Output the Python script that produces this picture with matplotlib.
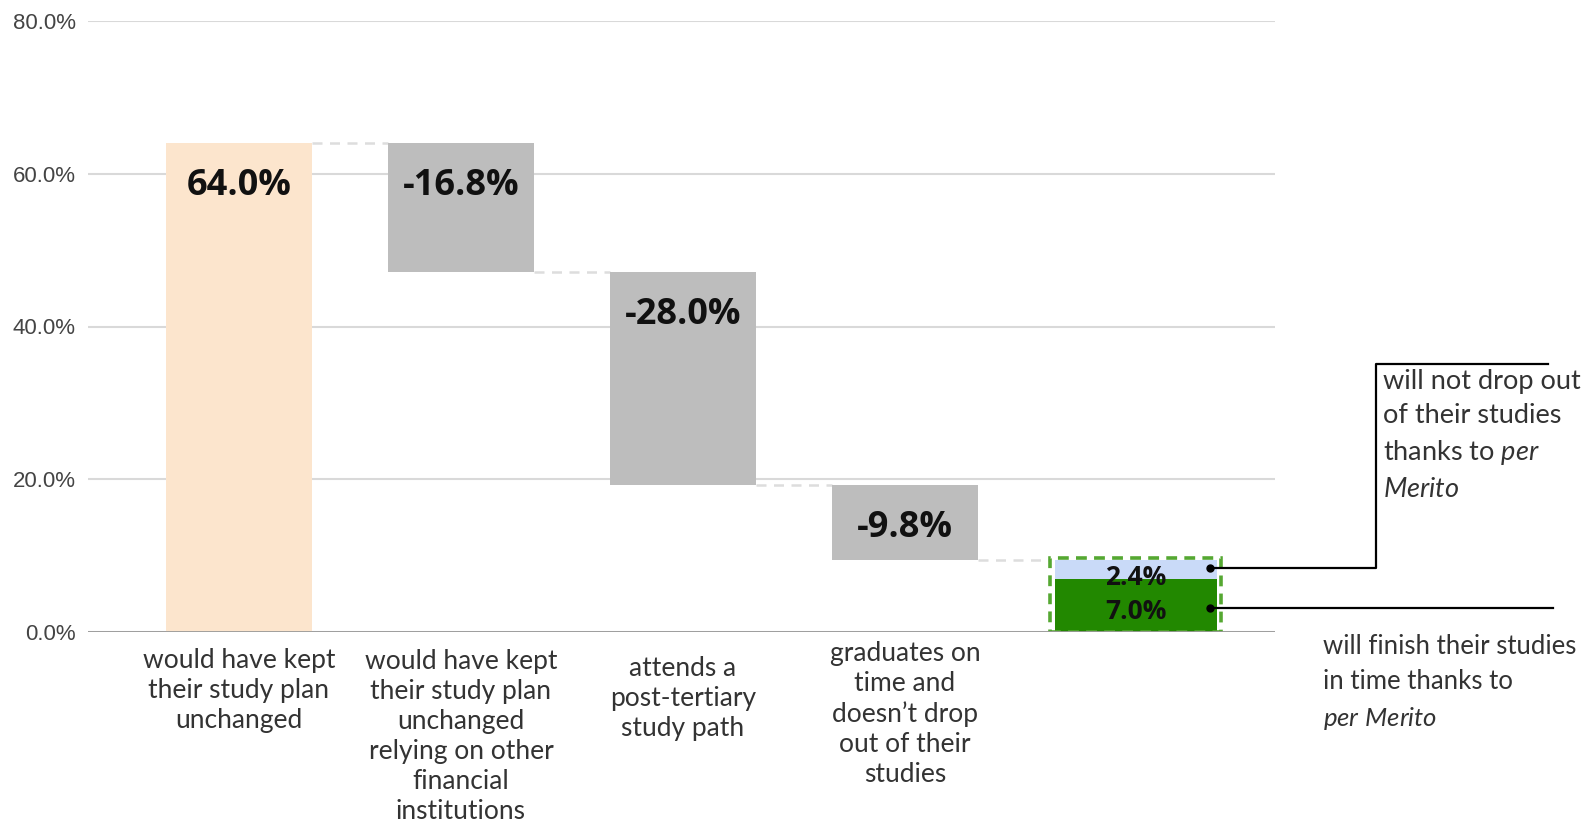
import matplotlib
matplotlib.use("Agg")
import matplotlib.pyplot as plt
from matplotlib.patches import Rectangle
from matplotlib.lines import Line2D

# ---- data -------------------------------------------------------------
categories = [
    "would have kept\ntheir study plan\nunchanged",
    "would have kept\ntheir study plan\nunchanged\nrelying on other\nfinancial\ninstitutions",
    "attends a\npost-tertiary\nstudy path",
    "graduates on\ntime and\ndoesn\u2019t drop\nout of their\nstudies",
    "",
]
start_value = 64.0
changes = [-16.8, -28.0, -9.8]
final_parts = [7.0, 2.4]          # finish in time / will not drop out
yticks = [0, 20, 40, 60, 80]
ytick_labels = ["0.0%", "20.0%", "40.0%", "60.0%", "80.0%"]
note_upper = "will not drop out\nof their studies\nthanks to $\\mathit{per}$\n$\\mathit{Merito}$"
note_lower = "will finish their studies\nin time thanks to\n$\\mathit{per\\ Merito}$"

# ---- style ------------------------------------------------------------
C_START = "#fce5cd"
C_STEP = "#bdbdbd"
C_GREEN = "#228800"
C_BLUE = "#c9daf8"
C_DASH = "#55a832"
C_GRID = "#d9d9d9"
TXT = "#333333"
LABEL_FONT = "Lato"
VALUE_FONT = "Open Sans"

plt.rcParams["mathtext.fontset"] = "custom"
plt.rcParams["mathtext.rm"] = LABEL_FONT
plt.rcParams["mathtext.it"] = LABEL_FONT + ":italic"

W, H, DPI = 1583, 825, 100
fig = plt.figure(figsize=(W / DPI, H / DPI), dpi=DPI)
ax = fig.add_axes([88 / W, 1 - 632 / H, (1275 - 88) / W, (632 - 21) / H])

xs = list(range(len(categories)))
bw = 0.66

# running totals of the waterfall
levels = [start_value]
for c in changes:
    levels.append(levels[-1] + c)

# first bar
ax.bar(xs[0], start_value, width=bw, color=C_START, zorder=2)
# step bars
for i, c in enumerate(changes, start=1):
    top = levels[i - 1]
    ax.bar(xs[i], c, bottom=top, width=bw, color=C_STEP, zorder=2)

# final stacked bar
fx = xs[4] + 0.04
fw = 0.73
ax.bar(fx, final_parts[0], width=fw, color=C_GREEN, zorder=2)
ax.bar(fx, final_parts[1], bottom=final_parts[0], width=fw, color=C_BLUE, zorder=2)
final_total = sum(final_parts)
ax.add_patch(Rectangle((fx - fw / 2 - 0.02, 0), fw + 0.04, final_total + 0.35,
                       fill=False, edgecolor=C_DASH, lw=2.6, ls=(0, (3, 2)), zorder=3))

# connectors between consecutive bars
for i in range(len(levels)):
    x0 = xs[i] + bw / 2
    x1 = (fx - fw / 2 - 0.02) if i + 1 == 4 else xs[i + 1] - bw / 2
    ax.plot([x0, x1], [levels[i], levels[i]], color="#dddddd", lw=1.8,
            ls=(0, (4, 3)), zorder=1)

# value labels
def val_label(x, y, text, size, drop):
    ax.annotate(text, (x, y), xytext=(0, -drop), textcoords="offset pixels",
                ha="center", va="center", fontsize=size, fontweight="bold",
                fontfamily=VALUE_FONT, color="#111111", zorder=4)

val_label(xs[0], start_value, f"{start_value:.1f}%", 26, 43)
for i, c in enumerate(changes, start=1):
    val_label(xs[i], levels[i - 1], f"{c:.1f}%", 26, 43)
val_label(fx, final_parts[0], f"{final_parts[0]:.1f}%", 19, 33)
val_label(fx, final_total, f"{final_parts[1]:.1f}%", 19, 17)

# axes styling
ax.set_xlim(-0.68, 4.667)
ax.set_ylim(0, 80)
ax.set_yticks(yticks)
ax.set_yticklabels(ytick_labels, fontfamily="Liberation Sans", fontsize=16, color="#444444")
ax.yaxis.grid(True, color=C_GRID, lw=1.5, zorder=0)
ax.set_axisbelow(True)
ax.tick_params(axis="y", length=0, pad=9)
ax.tick_params(axis="x", length=0)
ax.set_xticks(xs)
ax.set_xticklabels([])
for s in ax.spines.values():
    s.set_visible(False)
ax.axhline(0, color="#999999", lw=2, zorder=3)

# category labels under the bars
label_drop = [16, 17, 24, 9, 0]
for x, lab, d in zip(xs, categories, label_drop):
    if lab:
        ax.annotate(lab, (x, 0), xytext=(0, -d), textcoords="offset pixels",
                    ha="center", va="top", fontsize=19, fontfamily=LABEL_FONT,
                    color=TXT, linespacing=1.25)

# callouts for the final bar
fig.canvas.draw()
to_px = ax.transData
bar_right = fx + fw / 2 - 0.03
up_dot = to_px.transform((bar_right, final_parts[0] + final_parts[1] * 0.55))
lo_dot = to_px.transform((bar_right, final_parts[0] * 0.45))

def fig_line(xs_px, ys_px):
    fig.add_artist(Line2D([p / W for p in xs_px], [p / H for p in ys_px],
                          color="black", lw=1.6, zorder=5))

ux, uy = up_dot
elbow_x = 1376
top_y = H - 364
fig_line([ux, elbow_x, elbow_x, 1548], [uy, uy, top_y, top_y])
lx, ly = lo_dot
fig_line([lx, 1553], [ly, ly])
for (dx, dy) in (up_dot, lo_dot):
    fig.add_artist(Line2D([dx / W], [dy / H], marker="o", ms=5, color="black", zorder=6))

fig.text(1383 / W, 1 - 369 / H, note_upper, ha="left", va="top", fontsize=19.5,
         fontfamily=LABEL_FONT, color=TXT, linespacing=1.46)
fig.text(1323 / W, 1 - 634 / H, note_lower, ha="left", va="top", fontsize=18.5,
         fontfamily=LABEL_FONT, color=TXT, linespacing=1.5)

fig.savefig("out.png", dpi=DPI)
